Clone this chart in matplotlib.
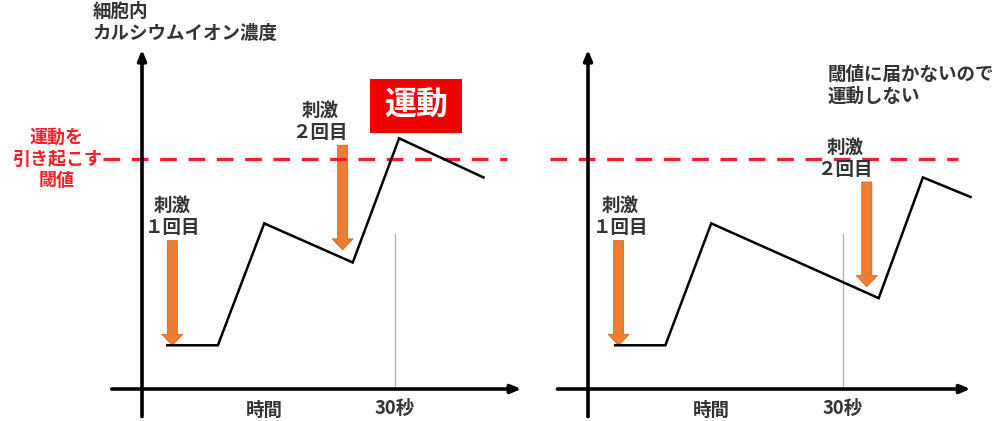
import matplotlib
matplotlib.use("Agg")
import matplotlib.pyplot as plt
from matplotlib.patches import FancyArrow, Rectangle

plt.rcParams['font.family'] = ['Noto Sans CJK JP', 'DejaVu Sans']

# data: time (s) vs intracellular Ca concentration (threshold = 100)
threshold = 100
mark_time = 30
stim_names = ['１回目', '２回目']

left_t = [3, 9, 14.5, 25, 30.5, 40.5]
left_c = [19, 19, 72, 55, 109, 92]
left_stim_t = [3.6, 23.8]
left_stim_from = [64.5, 106]
left_stim_to = [19, 60.5]
left_label_t = [3.6, 21.1]

right_t = [3.2, 9.1, 14.5, 34.2, 39.4, 45]
right_c = [19, 19, 72, 39.5, 92, 83.5]
right_stim_t = [3.6, 32.8]
right_stim_from = [64.5, 90]
right_stim_to = [19, 44.5]
right_label_t = [3.8, 30.2]

W, H = 1000, 421
xaxis_py = 389          # pixel row of the time axis
ypx = 2.3               # pixels per concentration unit
fs = 13.3

fig = plt.figure(figsize=(W / 100, H / 100), dpi=100)
fig.patch.set_facecolor('white')

txt_col = '#333333'
red = '#f2202c'
orange = '#ed7d31'


def make_panel(x0, xpx):
    # axes covering the whole figure, data origin at pixel (x0, xaxis_py)
    ax = fig.add_axes([0, 0, 1, 1])
    ax.set_xlim(-x0 / xpx, (W - x0) / xpx)
    ax.set_ylim((xaxis_py - H) / ypx, xaxis_py / ypx)
    ax.axis('off')
    ax.patch.set_alpha(0)
    return ax


def draw_panel(ax, xpx, t, c, st, sfrom, sto, lt, x_end, dash_start, dash_end):
    # axes with arrows
    ax.annotate('', xy=(0, 147.5), xytext=(0, -12),
                arrowprops=dict(arrowstyle='-|>,head_width=0.25,head_length=0.6',
                                color='black', lw=2.6, shrinkA=0, shrinkB=0))
    ax.annotate('', xy=(x_end, 0), xytext=(-3.6, 0),
                arrowprops=dict(arrowstyle='-|>,head_width=0.25,head_length=0.6',
                                color='black', lw=2.6, shrinkA=0, shrinkB=0))
    # 30 s marker
    ax.plot([mark_time, mark_time], [0, 67.5], color='#a8a8e8', lw=0.9)
    # threshold
    ax.plot([dash_start, dash_end], [threshold, threshold], color=red, lw=2.4,
            dashes=(5, 3.5))
    # concentration curve
    ax.plot(t, c, color='black', lw=1.8, solid_joinstyle='miter')
    # stimulus arrows
    for i, (x, a, b) in enumerate(zip(st, sfrom, sto)):
        ax.add_patch(FancyArrow(x, a, 0, b - a, width=10 / xpx, head_width=21 / xpx,
                                head_length=11 / ypx, length_includes_head=True,
                                facecolor=orange, edgecolor='#c76a2a', lw=0.6))
        ax.text(lt[i], a + 1.5, '刺激\n' + stim_names[i],
                ha='center', va='bottom', fontsize=fs, color=txt_col,
                fontweight='bold', linespacing=1.2)
    ax.text(14.5, -5, '時間', ha='center', va='top', fontsize=fs,
            color=txt_col, fontweight='bold')
    ax.text(mark_time, -4.5, '30秒', ha='center', va='top', fontsize=fs,
            color=txt_col, fontweight='bold')


axL = make_panel(142, 8.43)
draw_panel(axL, 8.43, left_t, left_c, left_stim_t, left_stim_from, left_stim_to,
           left_label_t, 45, -4.6, 43.3)
axR = make_panel(588, 8.5)
draw_panel(axR, 8.5, right_t, right_c, right_stim_t, right_stim_from, right_stim_to,
           right_label_t, 45, -4.5, 43.5)

# left panel annotations
axL.text(-5.9, 168.5, '細胞内\nカルシウムイオン濃度', ha='left', va='top',
         fontsize=fs, color=txt_col, fontweight='bold', linespacing=1.2)
axL.text(-10.1, threshold, '運動を\n引き起こす\n閾値', ha='center', va='center',
         fontsize=13, color=red, fontweight='bold', linespacing=1.2)
axL.add_patch(Rectangle((27.05, 111.3), 10.9, 23.5, facecolor='#ee0000',
                        edgecolor='none'))
axL.text(32.5, 123, '運動', ha='center', va='center', fontsize=23,
         color='white', fontweight='bold')

# right panel annotation
axR.text(28.2, 141, '閾値に届かないので\n運動しない', ha='left', va='top',
         fontsize=fs, color=txt_col, fontweight='bold', linespacing=1.2)

fig.savefig('out.png', dpi=100, facecolor='white')
